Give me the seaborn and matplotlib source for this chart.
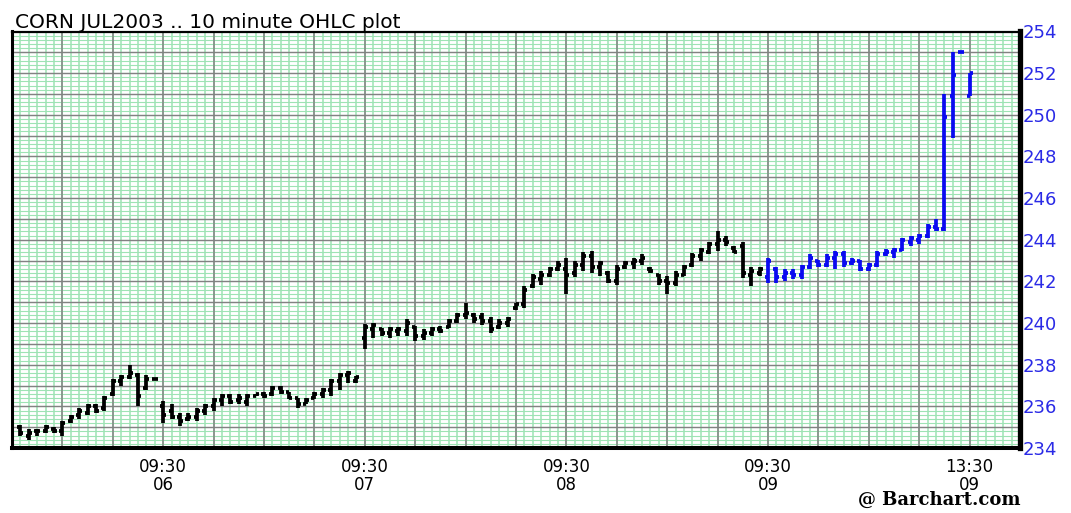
import matplotlib
matplotlib.use("Agg")
import numpy as np
import pandas as pd
import matplotlib.pyplot as plt
import seaborn as sns

# ---------------- data ----------------
title = "CORN JUL2003 .. 10 minute OHLC plot"
credit = "@ Barchart.com"

day_labels = ["05", "06", "07", "08", "09"]
first_slot = [-17, 0, 24, 48, 72]          # 10-minute slot of first bar of each session
tick_slots = [0, 24, 48, 72, 96]
tick_labels = ["09:30\n06", "09:30\n07", "09:30\n08", "09:30\n09", "13:30\n09"]
y_ticks = [234, 236, 238, 240, 242, 244, 246, 248, 250, 252, 254]

o05 = [235.0, 234.6, 234.8, 234.8, 234.9, 234.8, 235.3, 235.6, 235.7, 236.0, 235.9, 236.6, 237.2, 237.4, 237.5, 236.9, 237.3]
h05 = [235.1, 234.9, 234.9, 235.1, 235.0, 235.3, 235.6, 235.9, 236.1, 236.1, 236.5, 237.3, 237.5, 238.0, 237.6, 237.5, 237.3]
l05 = [234.6, 234.4, 234.6, 234.7, 234.7, 234.6, 235.2, 235.4, 235.6, 235.7, 235.8, 236.5, 237.0, 237.3, 236.0, 236.8, 237.3]
c05 = [234.7, 234.7, 234.8, 235.0, 234.8, 235.2, 235.5, 235.8, 236.0, 235.8, 236.4, 237.2, 237.4, 237.6, 236.5, 237.3, 237.3]

o06 = [236.0, 235.8, 235.5, 235.4, 235.5, 235.8, 236.0, 236.3, 236.5, 236.3, 236.2, 236.5, 236.6, 236.6, 236.9, 236.7, 236.4, 236.1, 236.4, 236.6, 236.8, 237.2, 237.5, 237.2]
h06 = [236.25, 236.1, 235.7, 235.7, 235.9, 236.1, 236.4, 236.6, 236.6, 236.6, 236.6, 236.6, 236.7, 237.0, 237.0, 236.7, 236.4, 236.4, 236.7, 236.9, 237.3, 237.6, 237.7, 237.45]
l06 = [235.2, 235.4, 235.05, 235.3, 235.3, 235.6, 235.8, 236.0, 236.1, 236.1, 236.0, 236.5, 236.4, 236.5, 236.6, 236.35, 235.9, 236.1, 236.35, 236.4, 236.5, 236.8, 237.1, 237.1]
c06 = [235.6, 235.5, 235.3, 235.5, 235.8, 236.0, 236.3, 236.5, 236.2, 236.4, 236.5, 236.6, 236.5, 236.9, 236.7, 236.4, 236.1, 236.3, 236.6, 236.8, 237.2, 237.5, 237.6, 237.4]

o07 = [239.3, 239.7, 239.7, 239.5, 239.6, 239.6, 239.8, 239.4, 239.5, 239.7, 239.8, 240.1, 240.4, 240.4, 240.3, 240.1, 239.8, 240.0, 240.7, 240.9, 241.8, 242.1, 242.3, 242.6]
h07 = [239.95, 240.0, 239.75, 239.8, 239.8, 240.2, 239.85, 239.7, 239.8, 239.85, 240.2, 240.5, 240.95, 240.5, 240.5, 240.3, 240.2, 240.3, 240.95, 241.8, 242.35, 242.5, 242.7, 243.0]
l07 = [238.75, 239.3, 239.4, 239.3, 239.4, 239.4, 239.15, 239.2, 239.4, 239.5, 239.75, 240.0, 240.2, 240.0, 239.9, 239.5, 239.7, 239.8, 240.65, 240.7, 241.7, 241.85, 242.2, 242.5]
c07 = [239.8, 239.9, 239.5, 239.7, 239.7, 240.0, 239.4, 239.5, 239.7, 239.6, 240.1, 240.4, 240.5, 240.2, 240.1, 239.7, 240.0, 240.2, 240.9, 241.6, 242.2, 242.3, 242.6, 242.8]

o08 = [242.6, 242.4, 242.8, 243.2, 242.7, 242.4, 242.0, 242.7, 242.9, 243.0, 242.6, 242.3, 242.0, 241.9, 242.3, 242.8, 243.2, 243.4, 243.8, 244.0, 243.6, 243.7, 242.3, 242.4]
h08 = [243.1, 243.0, 243.4, 243.45, 243.0, 242.5, 242.8, 243.0, 243.1, 243.3, 242.7, 242.35, 242.25, 242.5, 242.8, 243.35, 243.6, 243.9, 244.4, 244.2, 243.7, 243.9, 242.7, 242.7]
l08 = [241.4, 242.2, 242.5, 242.4, 242.25, 241.9, 241.85, 242.6, 242.6, 242.8, 242.4, 241.85, 241.4, 241.8, 242.25, 242.7, 243.0, 243.3, 243.45, 243.7, 243.35, 242.15, 241.8, 242.25]
c08 = [242.3, 242.8, 243.2, 242.7, 242.9, 242.0, 242.6, 242.9, 243.0, 243.1, 242.5, 242.0, 241.9, 242.3, 242.7, 243.2, 243.5, 243.8, 244.0, 243.9, 243.4, 242.4, 242.5, 242.6]

o09 = [242.2, 242.6, 242.2, 242.4, 242.3, 242.7, 243.0, 242.8, 243.1, 243.3, 242.9, 243.0, 242.6, 242.8, 243.3, 243.4, 243.5, 243.9, 244.0, 244.2, 244.6, 244.5, 250.9, 253.0, 250.9]
h09 = [243.1, 242.7, 242.6, 242.6, 242.8, 243.3, 243.05, 243.3, 243.45, 243.45, 243.1, 243.05, 242.9, 243.45, 243.55, 243.6, 244.1, 244.2, 244.3, 244.75, 245.0, 251.0, 253.0, 253.0, 252.0]
l09 = [241.9, 241.9, 242.0, 242.1, 242.1, 242.6, 242.7, 242.7, 242.6, 242.7, 242.8, 242.5, 242.5, 242.7, 243.2, 243.1, 243.45, 243.7, 243.8, 244.1, 244.4, 244.4, 248.9, 253.0, 250.9]
c09 = [243.0, 242.2, 242.4, 242.3, 242.7, 243.1, 242.8, 243.1, 243.3, 242.9, 243.0, 242.6, 242.8, 243.3, 243.4, 243.5, 244.0, 244.1, 244.2, 244.6, 244.5, 249.9, 251.9, 253.0, 252.0]

sessions = [
    (o05, h05, l05, c05),
    (o06, h06, l06, c06),
    (o07, h07, l07, c07),
    (o08, h08, l08, c08),
    (o09, h09, l09, c09),
]

# ---------------- styling ----------------
PRIOR = "#000000"
TODAY = "#0a0af0"
GREEN = "#9ee3b4"
GRAY = "#828282"
LABEL_BLUE = "#2a2ae6"
TICK_HALF = 0.36         # length of open/close ticks in slots

# build long-form data for seaborn: each segment is its own unit
rows = []
n_days = len(sessions)
for d, (o, h, l, c) in enumerate(sessions):
    sess = "today" if d == n_days - 1 else "prior"
    for i in range(len(o)):
        x = first_slot[d] + i
        key = f"{d}_{i}"
        rows.append(dict(x=x, y=l[i], seg=key + "hl", sess=sess))
        rows.append(dict(x=x, y=h[i], seg=key + "hl", sess=sess))
        rows.append(dict(x=x - TICK_HALF, y=o[i], seg=key + "o", sess=sess))
        rows.append(dict(x=x, y=o[i], seg=key + "o", sess=sess))
        rows.append(dict(x=x, y=c[i], seg=key + "c", sess=sess))
        rows.append(dict(x=x + TICK_HALF, y=c[i], seg=key + "c", sess=sess))
df = pd.DataFrame(rows)

sns.set_theme(style="white")
plt.rcParams["font.family"] = ["DejaVu Sans"]

W, H = 1071, 513
fig = plt.figure(figsize=(W / 100, H / 100), dpi=100)
left, right, top, bottom = 12, 1020, 31.5, 448
ax = fig.add_axes([left / W, (H - bottom) / H, (right - left) / W, (bottom - top) / H])
ax.set_facecolor("white")

xmin, xmax = -18, 102
ymin, ymax = 234, 254
ax.set_xlim(xmin, xmax)
ax.set_ylim(ymin, ymax)

# paper-like grid
ax.vlines(np.arange(xmin, xmax + 1, 1), ymin, ymax, color=GREEN, lw=1.1, zorder=0)
ax.hlines(np.arange(ymin, ymax + 0.001, 0.2), xmin, xmax, color=GREEN, lw=0.8, zorder=0)
ax.vlines(np.arange(xmin, xmax + 1, 6), ymin, ymax, color=GRAY, lw=1.1, zorder=1)
ax.hlines(np.arange(ymin, ymax + 0.001, 1), xmin, xmax, color=GRAY, lw=1.0, zorder=1)

sns.lineplot(data=df, x="x", y="y", units="seg", estimator=None, sort=False,
             hue="sess", palette={"prior": PRIOR, "today": TODAY},
             linewidth=2.7, legend=False, ax=ax, zorder=3)

for ln in ax.get_lines():
    ln.set_solid_capstyle("butt")

ax.set_xlabel("")
ax.set_ylabel("")

# axes decoration
ax.yaxis.tick_right()
ax.set_yticks(y_ticks)
ax.set_yticklabels([str(v) for v in y_ticks], color=LABEL_BLUE, fontsize=13)
ax.tick_params(axis="y", length=0, pad=2)

ax.set_xticks(tick_slots)
ax.set_xticklabels(tick_labels, fontsize=12, color="black", linespacing=1.0)
ax.tick_params(axis="x", length=4, width=2.2, color="black", pad=3, direction="out")

for side, lw in (("left", 2.2), ("bottom", 2.9), ("right", 3.8), ("top", 1.6)):
    ax.spines[side].set_visible(True)
    ax.spines[side].set_color("black")
    ax.spines[side].set_linewidth(lw)

fig.text(15 / W, 1 - 28 / H, title, fontsize=14.5, color="black", ha="left", va="baseline")
fig.text(1020 / W, 1 - 505 / H, credit, fontsize=13, color="black", ha="right",
         va="baseline", family="DejaVu Serif", fontweight="bold")

fig.savefig("out.png", dpi=100)
